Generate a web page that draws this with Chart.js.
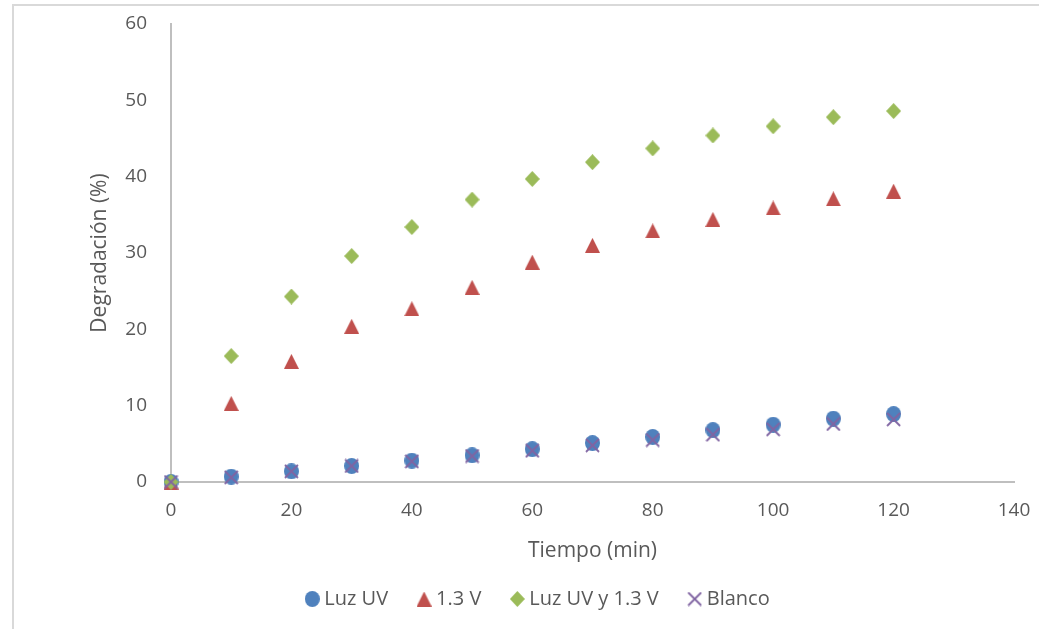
<!DOCTYPE html>
<html>
<head>
<meta charset="utf-8">
<script src="https://cdn.jsdelivr.net/npm/chart.js@4/dist/chart.umd.min.js"></script>
<style>
  html, body { margin: 0; padding: 0; background: #fff; }
  #wrap { position: relative; width: 1039px; height: 629px; overflow: hidden; }
  #frame { position: absolute; left: 12px; top: 4px; width: 1100px; height: 700px;
           border-top: 2px solid #D9D9D9; border-left: 2px solid #D9D9D9; box-sizing: border-box; }
  canvas { position: absolute; left: 0; top: 0; }
</style>
</head>
<body>
<div id="wrap">
  <div id="frame"></div>
  <canvas id="c" width="1039" height="629"></canvas>
</div>
<script>
// ---- data ----
const tiempo      = [0, 10, 20, 30, 40, 50, 60, 70, 80, 90, 100, 110, 120];
const luzUV       = [0, 0.7, 1.4, 2.1, 2.8, 3.5, 4.3, 5.1, 5.9, 6.8, 7.5, 8.3, 8.9];
const v13         = [0, 10.3, 15.8, 20.4, 22.7, 25.5, 28.8, 31.0, 32.9, 34.4, 35.9, 37.1, 38.1];
const luzUVy13    = [0, 16.5, 24.3, 29.6, 33.4, 37.0, 39.7, 41.9, 43.7, 45.4, 46.6, 47.8, 48.6];
const blanco      = [0, 0.6, 1.4, 2.1, 2.7, 3.4, 4.1, 4.8, 5.5, 6.2, 6.9, 7.6, 8.2];
const seriesNames = ['Luz UV', '1.3 V', 'Luz UV y 1.3 V', 'Blanco'];
const xTicks = [0, 20, 40, 60, 80, 100, 120, 140];
const yTicks = [0, 10, 20, 30, 40, 50, 60];

// ---- marker images ----
function marker(w, h, draw) {
  const c = document.createElement('canvas');
  c.width = w; c.height = h;
  const g = c.getContext('2d');
  draw(g, w, h);
  return c;
}
const circleImg = marker(15, 16, (g, w, h) => {
  g.fillStyle = '#4F81BD';
  g.beginPath(); g.ellipse(w/2, h/2, w/2, h/2, 0, 0, Math.PI*2); g.fill();
});
const triImg = marker(15, 15, (g, w, h) => {
  g.fillStyle = '#C0504D';
  g.beginPath(); g.moveTo(w/2, 0); g.lineTo(w, h); g.lineTo(0, h); g.closePath(); g.fill();
});
const diaImg = marker(15, 16, (g, w, h) => {
  g.fillStyle = '#9BBB59';
  g.beginPath(); g.moveTo(w/2, 0); g.lineTo(w, h/2); g.lineTo(w/2, h); g.lineTo(0, h/2); g.closePath(); g.fill();
});
const xImg = marker(15, 15, (g, w, h) => {
  g.strokeStyle = '#8064A2'; g.lineWidth = 1.8;
  g.beginPath(); g.moveTo(1, 1); g.lineTo(w-1, h-1); g.moveTo(w-1, 1); g.lineTo(1, h-1); g.stroke();
});

function pts(arr) { return tiempo.map((t, i) => ({ x: t, y: arr[i] })); }
function ds(label, arr, img, color, order) {
  return { label, data: pts(arr), pointStyle: img, backgroundColor: color, borderColor: color,
           showLine: false, clip: false, pointRadius: 8, pointHoverRadius: 8, order };
}

const FONT = "'Open Sans', 'Noto Sans', sans-serif";
const TXT = '#595959';

new Chart(document.getElementById('c'), {
  type: 'scatter',
  data: {
    datasets: [
      ds(seriesNames[0], luzUV, circleImg, '#4F81BD', 4),
      ds(seriesNames[1], v13, triImg, '#C0504D', 3),
      ds(seriesNames[2], luzUVy13, diaImg, '#9BBB59', 2),
      ds(seriesNames[3], blanco, xImg, '#8064A2', 1),
    ]
  },
  options: {
    responsive: false,
    animation: false,
    layout: { padding: { left: 66, right: 25, top: 24, bottom: 10 } },
    plugins: {
      tooltip: { enabled: false },
      legend: {
        position: 'bottom',
        labels: {
          usePointStyle: true,
          pointStyleWidth: 4,
          color: TXT,
          font: { family: FONT, size: 20 },
          padding: 34,
          sort: (a, b) => a.datasetIndex - b.datasetIndex,
        }
      }
    },
    scales: {
      x: {
        type: 'linear', min: 0, max: 140,
        afterBuildTicks: (s) => { s.ticks = xTicks.map(v => ({ value: v })); },
        afterFit: (s) => { s.height = 73; s.paddingLeft = 0; s.paddingRight = 0; },
        grid: { display: false, drawTicks: false },
        border: { display: true, color: '#BFBFBF', width: 2 },
        ticks: { color: TXT, font: { family: FONT, size: 19 }, padding: 17, maxRotation: 0 },
        title: { display: true, text: 'Tiempo (min)', color: TXT,
                 font: { family: FONT, size: 21 }, padding: { top: 0, bottom: -8.6 } }
      },
      y: {
        type: 'linear', min: 0, max: 60,
        afterBuildTicks: (s) => { s.ticks = yTicks.map(v => ({ value: v })); },
        afterFit: (s) => { s.width = 105; s.paddingTop = 0; s.paddingBottom = 0; },
        grid: { display: false, drawTicks: false },
        border: { display: true, color: '#BFBFBF', width: 2 },
        ticks: { color: TXT, font: { family: FONT, size: 19 }, padding: 24 },
        title: { display: true, text: 'Degradación (%)', color: TXT,
                 font: { family: FONT, size: 21 }, padding: { top: 21.4, bottom: 0 } }
      }
    }
  }
});
</script>
</body>
</html>
